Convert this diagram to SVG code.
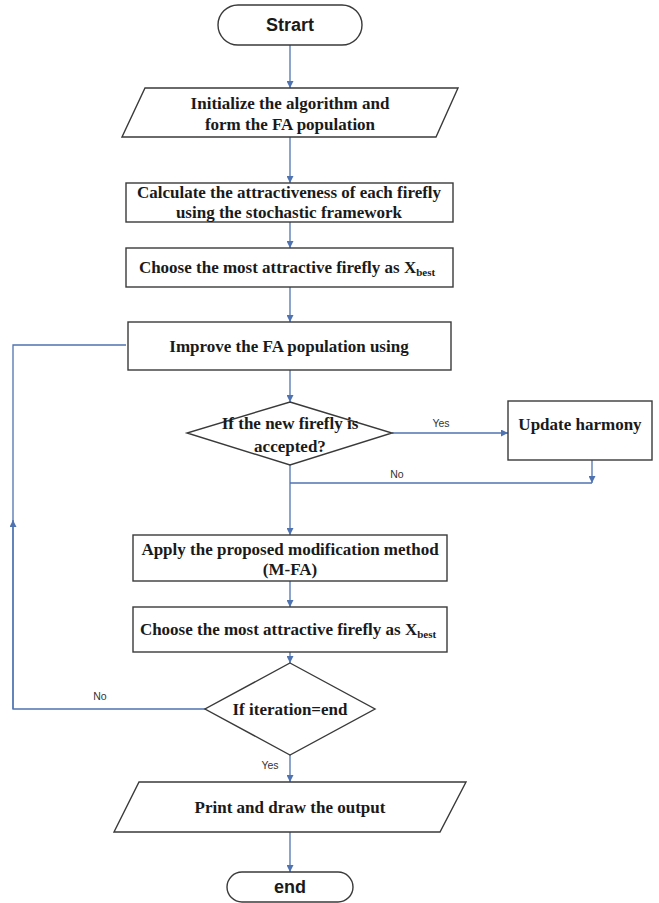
<svg xmlns="http://www.w3.org/2000/svg" width="659" height="903" viewBox="0 0 659 903">
<defs>
<marker id="ah" viewBox="0 0 10 10" refX="10" refY="5" markerWidth="7" markerHeight="7" markerUnits="userSpaceOnUse" orient="auto">
<path d="M0,0 L10,5 L0,10 z" fill="#4f73b0"/>
</marker>
<style>
.sh{fill:#fff;stroke:#3a3a3a;stroke-width:1.4}
.t{font-family:"Liberation Serif",serif;font-weight:bold;font-size:17px;fill:#1a1a1a;text-anchor:middle}
.ts{font-family:"Liberation Sans",Arial,sans-serif;font-weight:bold;font-size:18px;fill:#1a1a1a;text-anchor:middle}
.lb{font-family:"Liberation Sans",Arial,sans-serif;font-size:10.5px;fill:#333;text-anchor:middle}
.c{fill:none;stroke:#4f73b0;stroke-width:1.3}
</style>
</defs>
<rect width="659" height="903" fill="#fff"/>
<g id="connectors">
<line class="c" x1="290" y1="45" x2="290" y2="88" marker-end="url(#ah)"/>
<line class="c" x1="290" y1="137" x2="290" y2="183" marker-end="url(#ah)"/>
<line class="c" x1="290" y1="222" x2="290" y2="248" marker-end="url(#ah)"/>
<line class="c" x1="290" y1="287" x2="290" y2="322" marker-end="url(#ah)"/>
<line class="c" x1="290" y1="370" x2="290" y2="402" marker-end="url(#ah)"/>
<line class="c" x1="392" y1="433" x2="508" y2="433" marker-end="url(#ah)"/>
<line class="c" x1="592" y1="460" x2="592" y2="483" marker-end="url(#ah)"/>
<line class="c" x1="592" y1="483" x2="290" y2="483"/>
<line class="c" x1="290" y1="465" x2="290" y2="535" marker-end="url(#ah)"/>
<line class="c" x1="290" y1="581" x2="290" y2="607" marker-end="url(#ah)"/>
<line class="c" x1="290" y1="652" x2="290" y2="663" marker-end="url(#ah)"/>
<path class="c" d="M205,709 H13 V345 H126"/>
<line class="c" x1="13" y1="709" x2="13" y2="520" marker-end="url(#ah)"/>
<line class="c" x1="290" y1="755" x2="290" y2="782" marker-end="url(#ah)"/>
<line class="c" x1="290" y1="832" x2="290" y2="872" marker-end="url(#ah)"/>
<text class="lb" x="441" y="427">Yes</text>
<text class="lb" x="397" y="478">No</text>
<text class="lb" x="100" y="700">No</text>
<text class="lb" x="270" y="769">Yes</text>
</g>
<g id="start">
<rect class="sh" x="218" y="5" width="144" height="40" rx="20"/>
<text class="ts" x="290" y="31">Strart</text>
</g>
<g id="init">
<polygon class="sh" points="145,88 458,88 436,137 122,137"/>
<text class="t" x="290" y="109">Initialize the algorithm and</text>
<text class="t" x="290" y="130">form the FA population</text>
</g>
<g id="calc">
<rect class="sh" x="126" y="183" width="327" height="39"/>
<text class="t" x="289" y="198">Calculate the attractiveness of each firefly</text>
<text class="t" x="289" y="218">using the stochastic framework</text>
</g>
<g id="choose1">
<rect class="sh" x="126" y="248" width="327" height="39"/>
<text class="t" x="287" y="273">Choose the most attractive firefly as X<tspan font-size="11" dy="3">best</tspan></text>
</g>
<g id="improve">
<rect class="sh" x="128" y="322" width="323" height="48"/>
<text class="t" x="289" y="352">Improve the FA population using</text>
</g>
<g id="decision1">
<polygon class="sh" points="290,402 392,433 290,465 187,433"/>
<text class="t" x="290" y="429">If the new firefly is</text>
<text class="t" x="290" y="452">accepted?</text>
</g>
<g id="update">
<rect class="sh" x="508" y="401" width="144" height="59"/>
<text class="t" x="580" y="430">Update harmony</text>
</g>
<g id="apply">
<rect class="sh" x="133" y="535" width="314" height="46"/>
<text class="t" x="290" y="555">Apply the proposed modification method</text>
<text class="t" x="290" y="575">(M-FA)</text>
</g>
<g id="choose2">
<rect class="sh" x="133" y="607" width="314" height="45"/>
<text class="t" x="288" y="635">Choose the most attractive firefly as X<tspan font-size="11" dy="3">best</tspan></text>
</g>
<g id="decision2">
<polygon class="sh" points="290,663 375,709 290,755 205,709"/>
<text class="t" x="290" y="715">If iteration=end</text>
</g>
<g id="print">
<polygon class="sh" points="139,782 466,782 440,832 114,832"/>
<text class="t" x="290" y="813">Print and draw the output</text>
</g>
<g id="end">
<rect class="sh" x="227" y="872" width="126" height="30" rx="15"/>
<text class="ts" x="290" y="893">end</text>
</g>
</svg>
